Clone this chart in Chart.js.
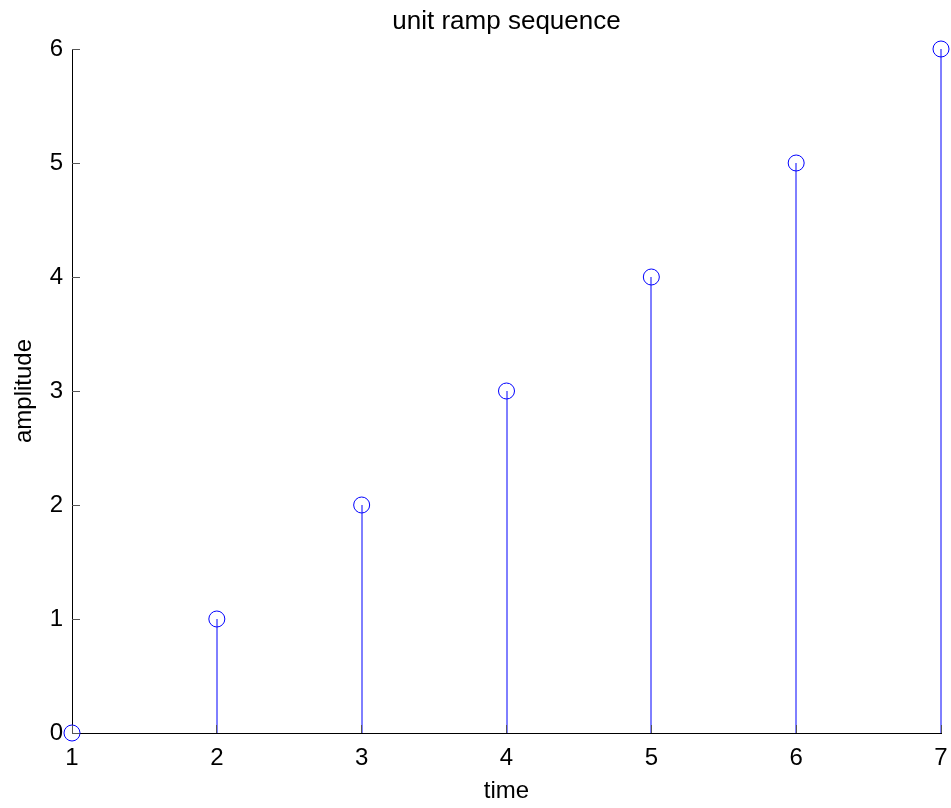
<!DOCTYPE html>
<html>
<head>
<meta charset="utf-8">
<title>unit ramp sequence</title>
<script src="https://cdn.jsdelivr.net/npm/chart.js@4"></script>
<style>
  html, body { margin: 0; padding: 0; background: #fff; }
  #wrap { width: 951px; height: 808px; }
</style>
</head>
<body>
<div id="wrap"><canvas id="stem" width="951" height="808"></canvas></div>
<script>
// ── Data ─────────────────────────────────────────────
const timeValues = [1, 2, 3, 4, 5, 6, 7];
const amplitudes = [0, 1, 2, 3, 4, 5, 6];
const xTickValues = [1, 2, 3, 4, 5, 6, 7];
const yTickValues = [0, 1, 2, 3, 4, 5, 6];

const BLUE = '#0000ff';
const FONT = "'Liberation Sans', Arial, sans-serif";

// stems: (t,0) -> (t,v), separated by gaps
const stemPoints = timeValues.flatMap((t, i) => [
  { x: t, y: 0 }, { x: t, y: amplitudes[i] }, { x: t, y: null }
]);
const markerPoints = timeValues.map((t, i) => ({ x: t, y: amplitudes[i] }));

// fixed axis boxes, no automatic label padding
const fixX = h => s => { s.height = h; s.paddingLeft = 0; s.paddingRight = 0; };

// put every stem on a pixel edge so all of them get the same soft blue
const evenStems = {
  id: 'evenStems',
  beforeDatasetDraw(chart, args) {
    if (args.index !== 0) return;
    args.meta.data.forEach(el => { el.x = Math.round(el.x); });
  }
};

// MATLAB-style inward tick marks
const innerTicks = {
  id: 'innerTicks',
  afterDatasetsDraw(chart) {
    const { ctx, chartArea, scales } = chart;
    ctx.save();
    ctx.strokeStyle = '#555';
    ctx.lineWidth = 1;
    ctx.beginPath();
    yTickValues.forEach(v => {
      const y = Math.round(scales.y.getPixelForValue(v)) + 0.5;
      ctx.moveTo(chartArea.left, y);
      ctx.lineTo(chartArea.left + 8, y);
    });
    xTickValues.forEach(v => {
      const x = Math.floor(scales.x.getPixelForValue(v)) + 0.5;
      ctx.moveTo(x, chartArea.bottom);
      ctx.lineTo(x, chartArea.bottom - 8);
    });
    ctx.stroke();
    ctx.restore();
  }
};

new Chart(document.getElementById('stem'), {
  type: 'scatter',
  data: {
    datasets: [
      {
        label: 'stems',
        type: 'line',
        data: stemPoints,
        borderColor: BLUE,
        borderWidth: 1,
        pointRadius: 0,
        spanGaps: false,
        tension: 0,
        clip: false,
      },
      {
        label: 'markers',
        data: markerPoints,
        pointStyle: 'circle',
        pointRadius: 8,
        pointBorderWidth: 1,
        borderColor: BLUE,
        backgroundColor: 'rgba(0,0,0,0)',
        clip: false,
      },
    ]
  },
  options: {
    responsive: false,
    animation: false,
    devicePixelRatio: 1,
    layout: { padding: { left: 0, right: 10, top: 0, bottom: 0 } },
    plugins: {
      legend: { display: false },
      tooltip: { enabled: false },
    },
    scales: {
      x: {
        type: 'linear',
        min: 1, max: 7,
        afterFit: fixX(75),
        afterBuildTicks: s => { s.ticks = xTickValues.map(v => ({ value: v })); },
        grid: { display: false, drawTicks: false },
        border: { display: true, color: '#000', width: 1 },
        ticks: { color: '#000', padding: 11, font: { family: FONT, size: 24 } },
        title: {
          display: true, text: 'time', color: '#000',
          font: { family: FONT, size: 24 }, padding: { top: 0, bottom: 2 },
        },
      },
      // top axis only carries the title, centred over the plot area
      top: {
        type: 'linear',
        position: 'top',
        axis: 'x',
        min: 1, max: 7,
        afterFit: fixX(49),
        grid: { display: false, drawTicks: false },
        border: { display: false },
        ticks: { display: false },
        title: {
          display: true, text: 'unit ramp sequence', color: '#000',
          font: { family: FONT, size: 26 }, padding: { top: 6, bottom: 0 },
        },
      },
      y: {
        type: 'linear',
        min: 0, max: 6,
        afterFit: s => { s.width = 72; },
        afterBuildTicks: s => { s.ticks = yTickValues.map(v => ({ value: v })); },
        grid: { display: false, drawTicks: false },
        border: { display: true, color: '#000', width: 1 },
        ticks: { color: '#000', padding: 9, font: { family: FONT, size: 24 } },
        title: {
          display: true, text: 'amplitude', color: '#000',
          font: { family: FONT, size: 24 }, padding: { top: 10, bottom: 0 },
        },
      },
    },
  },
  plugins: [evenStems, innerTicks],
});
</script>
</body>
</html>
